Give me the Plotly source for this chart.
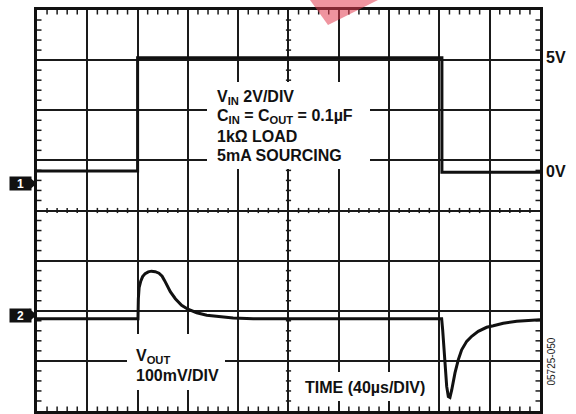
import plotly.graph_objects as go

W, H = 576, 414

# Oscilloscope screen: 10 x 8 divisions, 40 us/div horizontally
TIME_PER_DIV = 40.0
N_XDIV, N_YDIV = 10, 8
T_MAX = TIME_PER_DIV * N_XDIV

# Channel 1: input step (volts)
ch1_t = [0, 80, 80, 322, 322, 400]
ch1_v = [0, 0, 5, 5, -0.05, -0.05]

# Channel 2: output deviation (mV)
ch2_t = [0, 80.3, 80.6, 81.2, 82.5, 84.0, 86.0, 88.5, 91.0, 94.0, 97.0,
         99.5, 101.5, 103.5, 106.0, 110.0, 115.0, 120.0, 127.0, 135.0,
         145.0, 156.0, 172.0, 220.0, 280.0,
         321.8, 322.6, 324.4, 325.8, 327.1, 328.4, 329.8, 332.4, 335.0,
         337.7, 341.7, 345.7, 350.9, 357.6, 362.9, 370.8, 381.5, 394.7, 400]
ch2_mv = [0, 0, 40, 62, 75, 84, 90, 93.5, 95, 94, 91,
          85, 76, 66, 54, 40, 27, 19, 12, 7,
          4, 1.5, 0, 0, 0,
          0, -22, -88, -135, -155, -157, -142, -108, -82,
          -62, -45, -35, -25, -17, -14, -9, -5, -3, -2]

# Channel scaling / position on the screen (in divisions from centre)
CH1_ZERO_DIV, CH1_V_PER_DIV = 0.788, 2.212
CH2_ZERO_DIV, CH2_MV_PER_DIV = -2.16, 100.0

# plot-area placement in pixels
LEFT, RIGHT, TOP, BOTTOM = 37, 540, 10, 411


def px(x):
    return round(x / W, 6)


def py(y):
    return round(1 - y / H, 6)


# pixel sizes converted to data units for the graticule ticks
x_per_px = T_MAX / (RIGHT - LEFT)
y_per_px = N_YDIV / (BOTTOM - TOP)
edge_len_x, edge_len_y = 4.5 * x_per_px, 4.5 * y_per_px
mid_len_x, mid_len_y = 2.6 * x_per_px, 2.6 * y_per_px

tick_x, tick_y = [], []
minor_t = [i * TIME_PER_DIV / 5 for i in range(1, N_XDIV * 5) if i % 5]
minor_d = [-N_YDIV / 2 + i / 5 for i in range(1, N_YDIV * 5) if i % 5]
for t in minor_t:
    for y0, y1 in ((N_YDIV / 2, N_YDIV / 2 - edge_len_y),
                   (-N_YDIV / 2, -N_YDIV / 2 + edge_len_y),
                   (-mid_len_y, mid_len_y)):
        tick_x += [t, t, None]
        tick_y += [y0, y1, None]
for d in minor_d:
    for x0, x1 in ((0, edge_len_x), (T_MAX, T_MAX - edge_len_x),
                   (T_MAX / 2 - mid_len_x, T_MAX / 2 + mid_len_x)):
        tick_x += [x0, x1, None]
        tick_y += [d, d, None]

fig = go.Figure()
fig.add_trace(go.Scatter(x=tick_x, y=tick_y, mode="lines",
                         line=dict(color="#1a1a1a", width=1.5),
                         hoverinfo="skip"))
fig.add_trace(go.Scatter(x=ch1_t, y=ch1_v, yaxis="y2", mode="lines",
                         line=dict(color="#111111", width=3)))
fig.add_trace(go.Scatter(x=ch2_t, y=ch2_mv, yaxis="y3", mode="lines",
                         line=dict(color="#111111", width=3)))

x_dom = [px(LEFT), px(RIGHT)]
y_dom = [py(BOTTOM), py(TOP)]
half = N_YDIV / 2

fig.update_layout(
    width=W, height=H, margin=dict(l=0, r=0, t=0, b=0),
    paper_bgcolor="white", plot_bgcolor="white", showlegend=False,
    xaxis=dict(domain=x_dom, range=[0, T_MAX], dtick=TIME_PER_DIV, tick0=0,
               showgrid=True, gridcolor="#1a1a1a", gridwidth=1.6,
               zeroline=False, showline=True, mirror=True,
               linecolor="#111111", linewidth=2.5,
               showticklabels=False, ticks=""),
    yaxis=dict(domain=y_dom, range=[-half, half], dtick=1, tick0=0,
               showgrid=True, gridcolor="#1a1a1a", gridwidth=1.6,
               zeroline=False, showline=True, mirror=True,
               linecolor="#111111", linewidth=2.5,
               showticklabels=False, ticks=""),
    yaxis2=dict(overlaying="y", anchor="x", visible=False,
                range=[(-half - CH1_ZERO_DIV) * CH1_V_PER_DIV,
                       (half - CH1_ZERO_DIV) * CH1_V_PER_DIV]),
    yaxis3=dict(overlaying="y", anchor="x", visible=False,
                range=[(-half - CH2_ZERO_DIV) * CH2_MV_PER_DIV,
                       (half - CH2_ZERO_DIV) * CH2_MV_PER_DIV]),
)

FONT = "Liberation Sans, Arial, sans-serif"

# white backgrounds behind the text blocks
for x0, y0, x1, y1 in ((207, 82, 370, 169), (127, 334, 225, 390),
                       (296, 372, 433, 401)):
    fig.add_shape(type="rect", xref="paper", yref="paper",
                  x0=px(x0), x1=px(x1), y0=py(y1), y1=py(y0),
                  fillcolor="white", line_width=0, layer="above")

# channel ground markers: black tag with a pointed right end
for yc, label in ((183.5, "1"), (315, "2")):
    path = (f"M {px(29)},{py(yc - 6.5)} L {px(37)},{py(yc)} "
            f"L {px(29)},{py(yc + 6.5)} Z")
    fig.add_shape(type="path", xref="paper", yref="paper", path=path,
                  fillcolor="#111111", line_width=0, layer="above")
    fig.add_annotation(x=px(9), y=py(yc), xref="paper", yref="paper",
                       xanchor="left", yanchor="middle",
                       text=f"<b>{label}</b>", showarrow=False,
                       width=21, height=13, borderpad=0,
                       bgcolor="#111111", align="center",
                       font=dict(family=FONT, size=12, color="white"))

# red corner mark
fig.add_shape(type="path", xref="paper", yref="paper",
              path=f"M {px(310)},{py(0)} L {px(378)},{py(0)} L {px(328)},{py(25)} Z",
              fillcolor="rgba(225,60,80,0.55)", line_width=0, layer="above")

text_lines = [
    (215, 97.2, "V<sub>IN</sub> 2V/DIV"),
    (215, 116.7, "C<sub>IN</sub> = C<sub>OUT</sub> = 0.1µF"),
    (215, 136.3, "1kΩ LOAD"),
    (215, 155.3, "5mA SOURCING"),
    (134, 356.3, "V<sub>OUT</sub>"),
    (134, 375.8, "100mV/DIV"),
    (303, 387.5, "TIME (40µs/DIV)"),
]
for x, y, txt in text_lines:
    fig.add_annotation(x=px(x), y=py(y), xref="paper", yref="paper",
                       xanchor="left", yanchor="middle", text=f"<b>{txt}</b>",
                       showarrow=False,
                       font=dict(family=FONT, size=16, color="#111111"))

# level labels on the right, tied to channel 1 volts
for volts, label in ((5, "5V"), (0, "0V")):
    fig.add_annotation(x=px(544), y=volts, xref="paper", yref="y2",
                       xanchor="left", yanchor="middle", text=f"<b>{label}</b>",
                       showarrow=False,
                       font=dict(family=FONT, size=16, color="#111111"))

fig.add_annotation(x=px(559), y=py(387), xref="paper", yref="paper",
                   text="05725-050", textangle=-90, showarrow=False,
                   font=dict(family=FONT, size=10, color="#222222"))

fig.write_html("out.html")
